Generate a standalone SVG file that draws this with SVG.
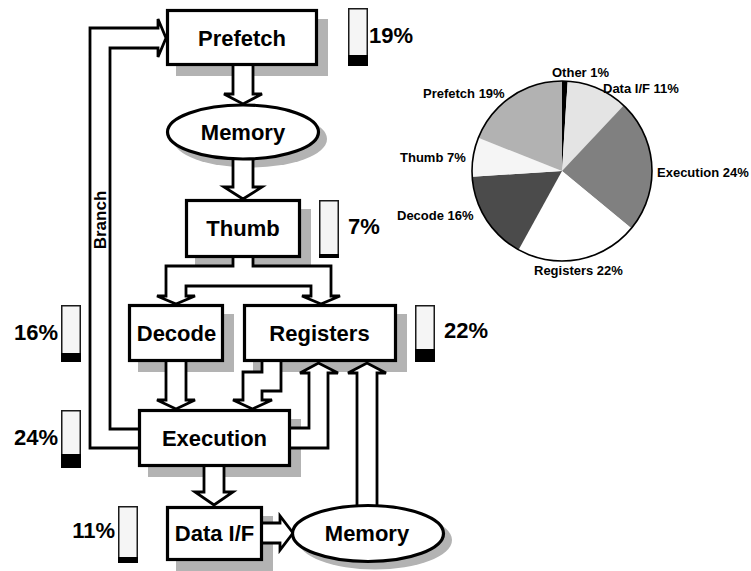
<svg xmlns="http://www.w3.org/2000/svg" width="751" height="571" viewBox="0 0 751 571">
  <style>
    .box { fill: #ffffff; stroke: #000000; stroke-width: 3.2; }
    .shadow { fill: #b3b3b3; }
    .arrow { fill: #ffffff; stroke: #000000; stroke-width: 2.8; stroke-linejoin: miter; }
    .label { font-family: "Liberation Sans", Arial, sans-serif; font-weight: bold; font-size: 22px; fill: #000000; text-anchor: middle; }
    .branch { font-family: "Liberation Sans", Arial, sans-serif; font-weight: bold; font-size: 17px; fill: #000000; text-anchor: middle; }
    .pct { font-family: "Liberation Sans", Arial, sans-serif; font-weight: bold; font-size: 22px; fill: #000000; }
    .gauge { fill: #f5f5f5; stroke: #1a1a1a; stroke-width: 1.5; }
    .level { fill: #000000; }
    .pie-label { font-family: "Liberation Sans", Arial, sans-serif; font-weight: bold; font-size: 13px; fill: #000000; }
  </style>

  <rect width="751" height="571" fill="#ffffff"/>

  <!-- drop shadows behind the blocks -->
  <g id="shadows">
    <rect class="shadow" x="176" y="19" width="152" height="57"/>
    <ellipse class="shadow" cx="250" cy="139" rx="77" ry="28.5"/>
    <rect class="shadow" x="195" y="209" width="116" height="59"/>
    <rect class="shadow" x="138" y="314" width="96" height="58"/>
    <rect class="shadow" x="253" y="314" width="154" height="58"/>
    <rect class="shadow" x="148" y="419" width="153" height="58"/>
    <rect class="shadow" x="176" y="516" width="97" height="55"/>
    <ellipse class="shadow" cx="375" cy="540" rx="77" ry="29.5"/>
  </g>

  <!-- hollow block arrows -->
  <g id="connectors">
    <polygon class="arrow" points="233,64 233,94 224,94 243,104 262,94 253,94 253,64"/>
    <polygon class="arrow" points="233,155 233,187 224,187 243,199 262,187 253,187 253,155"/>
    <polygon class="arrow" points="233,256 233,266 166,266 166,296 157,296 176,304 195,296 186,296 186,286 311,286 311,296 302,296 321,304 340,296 331,296 331,266 253,266 253,256"/>
    <polygon class="arrow" points="166,360 166,400 157,400 176,409 195,400 186,400 186,360"/>
    <polygon class="arrow" points="262,360 262,372 243,372 243,400 233,400 252.5,409 272,400 262,400 262,391 281,391 281,360"/>
    <polygon class="arrow" points="289,428 309,428 309,373 300,373 318.5,363 338,373 328,373 328,448 289,448"/>
    <polygon class="arrow" points="357,510 357,373 348,373 367,363 386,373 377,373 377,510"/>
    <polygon class="arrow" points="204,465 204,492 195,492 214,505 233,492 224,492 224,465"/>
    <polygon class="arrow" points="261,523 280,523 280,516 293,533 280,550 280,543 261,543"/>
    <polygon class="arrow" points="140,429 110,429 110,48 158,48 158,57 166,38 158,19 158,28 90,28 90,448 140,448"/>
    <text class="branch" transform="translate(106,220) rotate(-90)">Branch</text>
  </g>

  <!-- pipeline blocks -->
  <g id="prefetch">
    <rect class="box" x="167.5" y="10.5" width="149" height="54"/>
    <text class="label" x="242" y="45.5">Prefetch</text>
  </g>
  <g id="memory-fetch">
    <ellipse class="box" cx="243" cy="132" rx="75.5" ry="27"/>
    <text class="label" x="243" y="140">Memory</text>
  </g>
  <g id="thumb">
    <rect class="box" x="186.5" y="200.5" width="113" height="56"/>
    <text class="label" x="243" y="236">Thumb</text>
  </g>
  <g id="decode">
    <rect class="box" x="129.5" y="305.5" width="93" height="55"/>
    <text class="label" x="176.5" y="341">Decode</text>
  </g>
  <g id="registers">
    <rect class="box" x="244.5" y="305.5" width="151" height="55"/>
    <text class="label" x="319.5" y="341">Registers</text>
  </g>
  <g id="execution">
    <rect class="box" x="139.5" y="410.5" width="150" height="55"/>
    <text class="label" x="214.5" y="446">Execution</text>
  </g>
  <g id="data-if">
    <rect class="box" x="167.5" y="507.5" width="94" height="52"/>
    <text class="label" x="214.5" y="541">Data I/F</text>
  </g>
  <g id="memory-data">
    <ellipse class="box" cx="368" cy="533.5" rx="75.5" ry="28"/>
    <text class="label" x="367" y="541">Memory</text>
  </g>

  <!-- share gauges -->
  <g id="gauge-prefetch">
    <rect class="gauge" x="348.75" y="8.75" width="18.5" height="56.5"/>
    <rect class="level" x="348" y="55" width="20" height="11"/>
    <text class="pct" x="369" y="43">19%</text>
  </g>
  <g id="gauge-thumb">
    <rect class="gauge" x="319.75" y="200.75" width="18.5" height="56.5"/>
    <rect class="level" x="319" y="254" width="20" height="4"/>
    <text class="pct" x="348" y="234">7%</text>
  </g>
  <g id="gauge-registers">
    <rect class="gauge" x="415.75" y="305.75" width="18.5" height="55.5"/>
    <rect class="level" x="415" y="349" width="20" height="13"/>
    <text class="pct" x="444" y="338">22%</text>
  </g>
  <g id="gauge-decode">
    <rect class="gauge" x="61.75" y="305.75" width="18.5" height="55.5"/>
    <rect class="level" x="61" y="353" width="20" height="9"/>
    <text class="pct" x="58" y="340" text-anchor="end">16%</text>
  </g>
  <g id="gauge-execution">
    <rect class="gauge" x="61.75" y="410.75" width="18.5" height="56.5"/>
    <rect class="level" x="61" y="454" width="20" height="14"/>
    <text class="pct" x="58" y="445" text-anchor="end">24%</text>
  </g>
  <g id="gauge-data-if">
    <rect class="gauge" x="118.75" y="506.75" width="18.5" height="55.5"/>
    <rect class="level" x="118" y="557" width="20" height="6"/>
    <text class="pct" x="115" y="538" text-anchor="end">11%</text>
  </g>

  <!-- pie chart of the shares -->
  <g id="pie">
    <path d="M562,171 L562,81 A90,90 0 0 1 567.65,81.18 Z" fill="#000000"/>
    <path d="M562,171 L567.65,81.18 A90,90 0 0 1 623.6,105.4 Z" fill="#e4e4e4"/>
    <path d="M562,171 L623.6,105.4 A90,90 0 0 1 631.35,228.37 Z" fill="#808080"/>
    <path d="M562,171 L631.35,228.37 A90,90 0 0 1 518.64,249.87 Z" fill="#ffffff"/>
    <path d="M562,171 L518.64,249.87 A90,90 0 0 1 472.18,176.65 Z" fill="#4b4b4b"/>
    <path d="M562,171 L472.18,176.65 A90,90 0 0 1 478.32,137.87 Z" fill="#f5f5f5"/>
    <path d="M562,171 L478.32,137.87 A90,90 0 0 1 562,81 Z" fill="#b2b2b2"/>
    <circle cx="562" cy="171" r="90" fill="none" stroke="#000000" stroke-width="1.6"/>
    <text class="pie-label" x="552" y="77">Other 1%</text>
    <text class="pie-label" x="603" y="93">Data I/F 11%</text>
    <text class="pie-label" x="423" y="98">Prefetch 19%</text>
    <text class="pie-label" x="400" y="162">Thumb 7%</text>
    <text class="pie-label" x="657" y="177">Execution 24%</text>
    <text class="pie-label" x="397" y="220">Decode 16%</text>
    <text class="pie-label" x="534" y="275">Registers 22%</text>
  </g>
</svg>
